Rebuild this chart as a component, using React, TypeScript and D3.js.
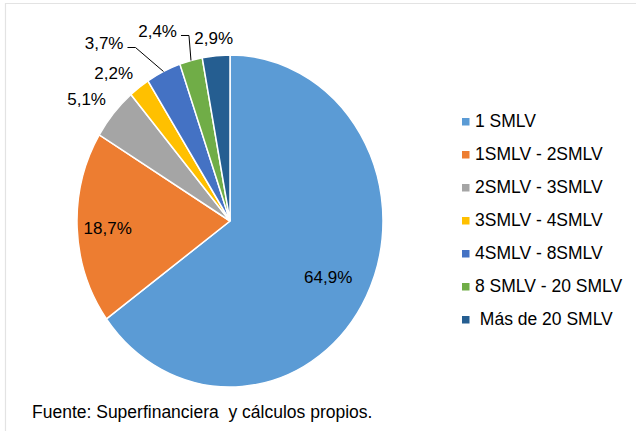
import React from "react";
import * as d3 from "d3";

const categories = [
  "1 SMLV",
  "1SMLV - 2SMLV",
  "2SMLV - 3SMLV",
  "3SMLV - 4SMLV",
  "4SMLV - 8SMLV",
  "8 SMLV - 20 SMLV",
  " Más de 20 SMLV",
];
const values = [64.9, 18.7, 5.1, 2.2, 3.7, 2.4, 2.9];
const valueLabels = ["64,9%", "18,7%", "5,1%", "2,2%", "3,7%", "2,4%", "2,9%"];
const colors = ["#5B9BD5", "#ED7D31", "#A5A5A5", "#FFC000", "#4472C4", "#70AD47", "#255E91"];
const footnote = "Fuente: Superfinanciera  y cálculos propios.";

const W = 636;
const H = 431;
const CX = 230;
const CY = 221;
const RX = 153;
const RY = 166;
const FONT = "'Liberation Sans', Arial, sans-serif";

// label layout: radial factor, nudges, and leader flag
const labelLayout = [
  { k: 0.72, dx: 0, dy: 3, leader: false },
  { k: 0.8, dx: 0, dy: 3, leader: false },
  { k: 1.18, dx: -6, dy: 7, leader: false },
  { k: 1.16, dx: -11, dy: 9, leader: false },
  { k: 1.0, dx: -28, dy: -24, leader: true },
  { k: 1.0, dx: -2, dy: -25, leader: true },
  { k: 1.1, dx: -1, dy: 0, leader: false },
];

export default function App() {
  const pie = d3.pie<number>().sort(null).value((d) => d);
  const arcs = pie(values);
  const arc = d3.arc<d3.PieArcDatum<number>>().innerRadius(0).outerRadius(RY);
  const sx = RX / RY;

  const pt = (ang: number, k: number) => [
    CX + Math.sin(ang) * RX * k,
    CY - Math.cos(ang) * RY * k,
  ];

  return (
    <svg
      width={W}
      height={H}
      style={{ position: "absolute", left: 0, top: 0, background: "#fff" }}
      fontFamily={FONT}
    >
      <rect x={0} y={0} width={W} height={H} fill="#fff" />
      <path d={`M5.5,${H} L5.5,3.5 L${W},3.5`} fill="none" stroke="#e3e3e3" strokeWidth={1.2} />
      <g transform={`translate(${CX},${CY}) scale(${sx},1)`}>
        {arcs.map((a, i) => (
          <path
            key={i}
            d={arc(a) as string}
            fill={colors[i]}
            stroke="#fff"
            strokeWidth={1.5}
            vectorEffect="non-scaling-stroke"
          />
        ))}
      </g>
      {arcs.map((a, i) => {
        const mid = (a.startAngle + a.endAngle) / 2;
        const L = labelLayout[i];
        if (L.leader) {
          const [ex, ey] = pt(mid, 1);
          const elbowX = ex + L.dx;
          const elbowY = ey + L.dy;
          const lineStart = elbowX - 8;
          return (
            <g key={i}>
              <path
                d={`M${lineStart},${elbowY} L${elbowX},${elbowY} L${ex},${ey}`}
                fill="none"
                stroke="#000"
                strokeWidth={1}
              />
              <text
                x={lineStart - 4}
                y={elbowY - 3}
                textAnchor="end"
                dominantBaseline="middle"
                fontSize={17}
                fill="#000"
              >
                {valueLabels[i]}
              </text>
            </g>
          );
        }
        const [lx, ly] = pt(mid, L.k);
        return (
          <text
            key={i}
            x={lx + L.dx}
            y={ly + L.dy}
            textAnchor="middle"
            dominantBaseline="middle"
            fontSize={17}
            fill="#000"
          >
            {valueLabels[i]}
          </text>
        );
      })}
      {categories.map((c, i) => {
        const y = 121.5 + i * 33;
        return (
          <g key={c}>
            <rect x={462} y={y - 3.5} width={7.5} height={7.5} fill={colors[i]} />
            <text
              x={475}
              y={y + 1}
              dominantBaseline="middle"
              fontSize={17.5}
              fill="#000"
              style={{ whiteSpace: "pre" }}
            >
              {c}
            </text>
          </g>
        );
      })}
      <text x={32} y={418} fontSize={17.5} fill="#000" style={{ whiteSpace: "pre" }}>
        {footnote}
      </text>
    </svg>
  );
}
